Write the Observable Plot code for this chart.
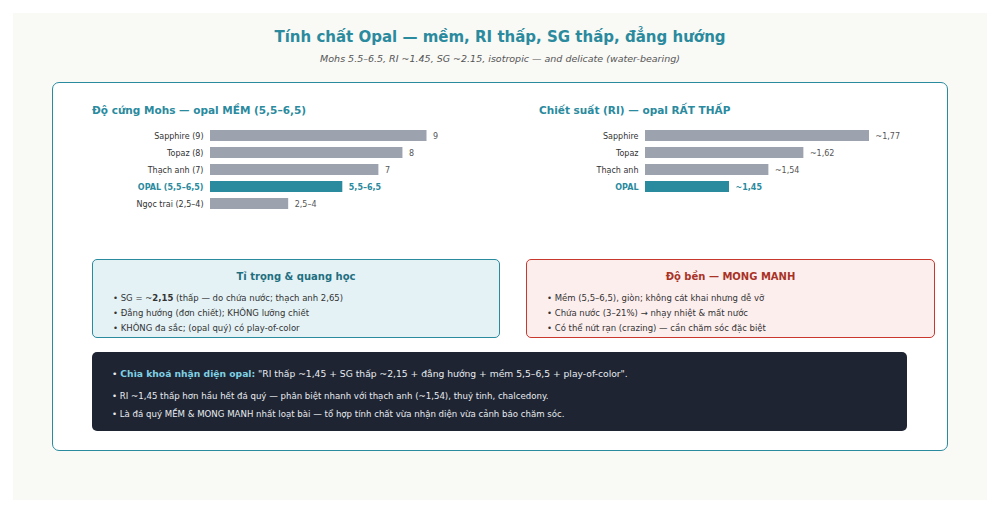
<!DOCTYPE html>
<html>
<head>
<meta charset="utf-8">
<script src="https://cdn.jsdelivr.net/npm/d3@7"></script>
<script src="https://cdn.jsdelivr.net/npm/@observablehq/plot@0.6"></script>
<style>
  html, body { margin: 0; padding: 0; background: #ffffff; }
  body { width: 1000px; height: 513px; position: relative; overflow: hidden; font-family: "DejaVu Sans", sans-serif; }
  .abs { position: absolute; }
  #bg { left: 13px; top: 13px; width: 974px; height: 487px; background: #f9f9f5; }
  #title { left: 0; width: 1000px; top: 28px; text-align: center; font-size: 15px; font-weight: bold; color: #2a8a9e; }
  #subtitle { left: 0; width: 1000px; top: 53px; text-align: center; font-size: 9.5px; font-style: italic; color: #555; }
  #card { left: 52px; top: 82px; width: 894px; height: 367px; background: #fff; border: 1px solid #2a8a9e; border-radius: 7px; }
  .ptitle { font-size: 10.5px; font-weight: bold; color: #2a8a9e; }
  .box { border-radius: 5px; box-sizing: border-box; }
  #boxL { left: 92px; top: 259px; width: 408px; height: 79px; background: #e4f2f6; border: 1px solid #2a8a9e; }
  #boxR { left: 526px; top: 259px; width: 409px; height: 79px; background: #fdeeee; border: 1px solid #c8382c; }
  #boxD { left: 92px; top: 352px; width: 815px; height: 79px; background: #1e2432; }
  .btitle { position: absolute; left: 0; width: 100%; top: 11px; text-align: center; font-size: 10px; font-weight: bold; }
  .bl { position: absolute; left: 20px; font-size: 8.5px; color: #333; white-space: nowrap; }
  .dl { position: absolute; left: 20px; font-size: 8.6px; color: #e8ebf0; white-space: nowrap; }
  svg { overflow: visible; }
</style>
</head>
<body>
<div id="bg" class="abs"></div>
<div id="title" class="abs">Tính chất Opal — mềm, RI thấp, SG thấp, đẳng hướng</div>
<div id="subtitle" class="abs">Mohs 5.5–6.5, RI ~1.45, SG ~2.15, isotropic — and delicate (water-bearing)</div>
<div id="card" class="abs"></div>
<div class="abs ptitle" style="left:92px; top:104px;">Độ cứng Mohs — opal MỀM (5,5–6,5)</div>
<div class="abs ptitle" style="left:539px; top:104px;">Chiết suất (RI) — opal RẤT THẤP</div>
<div id="chartL" class="abs" style="left:80px; top:120px;"></div>
<div id="chartR" class="abs" style="left:530px; top:120px;"></div>

<div id="boxL" class="abs box">
  <div class="btitle" style="color:#1f6f80;">Tỉ trọng &amp; quang học</div>
  <div class="bl" style="top:32.5px;">• SG = ~<b>2,15</b> (thấp — do chứa nước; thạch anh 2,65)</div>
  <div class="bl" style="top:47.5px;">• Đẳng hướng (đơn chiết); KHÔNG lưỡng chiết</div>
  <div class="bl" style="top:62.5px;">• KHÔNG đa sắc; (opal quý) có play-of-color</div>
</div>
<div id="boxR" class="abs box">
  <div class="btitle" style="color:#a93226;">Độ bền — MONG MANH</div>
  <div class="bl" style="top:32.5px;">• Mềm (5,5–6,5), giòn; không cát khai nhưng dễ vỡ</div>
  <div class="bl" style="top:47.5px;">• Chứa nước (3–21%) → nhạy nhiệt &amp; mất nước</div>
  <div class="bl" style="top:62.5px;">• Có thể nứt rạn (crazing) — cần chăm sóc đặc biệt</div>
</div>
<div id="boxD" class="abs box">
  <div class="dl" style="top:16px; font-size:9.2px;">• <b style="color:#7fd0e3;">Chìa khoá nhận diện opal:</b> "RI thấp ~1,45 + SG thấp ~2,15 + đẳng hướng + mềm 5,5–6,5 + play-of-color".</div>
  <div class="dl" style="top:38.5px;">• RI ~1,45 thấp hơn hầu hết đá quý — phân biệt nhanh với thạch anh (~1,54), thuỷ tinh, chalcedony.</div>
  <div class="dl" style="top:56.5px;">• Là đá quý MỀM &amp; MONG MANH nhất loạt bài — tổ hợp tính chất vừa nhận diện vừa cảnh báo chăm sóc.</div>
</div>

<script>
// ---- Data ----
const mohsNames = ["Sapphire (9)", "Topaz (8)", "Thạch anh (7)", "OPAL (5,5–6,5)", "Ngọc trai (2,5–4)"];
const mohsValues = [9, 8, 7, 5.5, 3.25];
const mohsLabels = ["9", "8", "7", "5,5–6,5", "2,5–4"];
const mohsHighlight = [false, false, false, true, false];

const riNames = ["Sapphire", "Topaz", "Thạch anh", "OPAL"];
const riValues = [1.77, 1.62, 1.54, 1.45];
const riLabels = ["~1,77", "~1,62", "~1,54", "~1,45"];
const riHighlight = [false, false, false, true];
const riBase = 1.258;

const TEAL = "#2a8a9e";
const GRAY = "#9ca3af";
const FONT = "DejaVu Sans, sans-serif";

function barChart(names, values, labels, hi, domain, range, base, height, yRange) {
  const rows = names.map((n, i) => ({name: n, value: values[i], label: labels[i], hi: hi[i]}));
  const normal = rows.filter(d => !d.hi);
  const highl = rows.filter(d => d.hi);
  return Plot.plot({
    width: 400, height,
    margin: 0,
    style: {fontFamily: FONT, background: "transparent"},
    x: {domain, range, axis: null},
    y: {domain: names, range: yRange, padding: 0, axis: null},
    marks: [
      Plot.barX(normal, {y: "name", x1: () => base, x2: "value", fill: GRAY, insetTop: 3, insetBottom: 3}),
      Plot.barX(highl, {y: "name", x1: () => base, x2: "value", fill: TEAL, insetTop: 3, insetBottom: 3}),
      Plot.text(normal, {y: "name", x: () => base, text: "name", textAnchor: "end", dx: -7, fontSize: 8, fill: "#333"}),
      Plot.text(highl, {y: "name", x: () => base, text: "name", textAnchor: "end", dx: -7, fontSize: 8, fill: TEAL, fontWeight: "bold"}),
      Plot.text(normal, {y: "name", x: "value", text: "label", textAnchor: "start", dx: 6, fontSize: 8, fill: "#555"}),
      Plot.text(highl, {y: "name", x: "value", text: "label", textAnchor: "start", dx: 6, fontSize: 8, fill: TEAL, fontWeight: "bold"})
    ]
  });
}

document.getElementById("chartL").appendChild(
  barChart(mohsNames, mohsValues, mohsLabels, mohsHighlight, [0, 9], [130, 346.5], 0, 100, [6.7, 91.7])
);
document.getElementById("chartR").appendChild(
  barChart(riNames, riValues, riLabels, riHighlight, [riBase, 1.77], [115, 339], riBase, 100, [6.7, 74.7])
);
</script>
</body>
</html>
